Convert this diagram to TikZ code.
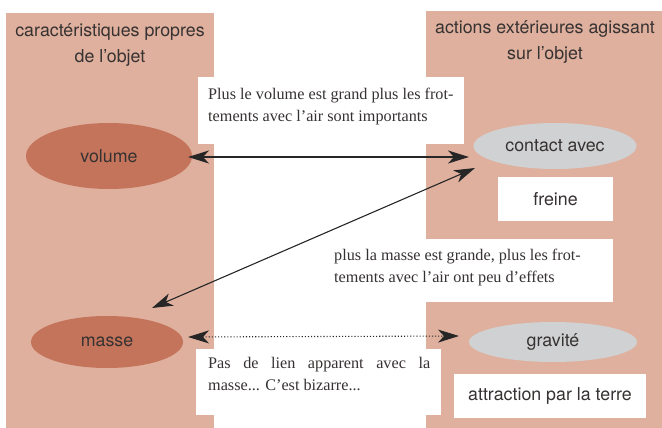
\documentclass[tikz,border=0pt]{standalone}
\usepackage{fontspec}
\setmainfont{Liberation Serif}
\newfontfamily\sansf{TeX Gyre Heros}
\usetikzlibrary{arrows.meta,shapes.geometric}
\definecolor{panel}{RGB}{222,176,157}
\definecolor{darkell}{RGB}{196,116,91}
\definecolor{greyell}{RGB}{208,209,211}
\definecolor{txt}{RGB}{55,50,50}
\tikzset{
  x=1pt,y=-1pt,
  sansfont/.style={font=\sansf\fontsize{17.8}{26}\selectfont,text=txt},
  paneltitle/.style={sansfont,align=center,inner sep=0},
  ellA/.style={ellipse,fill=darkell,sansfont,inner sep=0},
  ellB/.style={ellipse,fill=greyell,sansfont,inner sep=0},
  wbox/.style={fill=white,inner sep=0,anchor=north west},
  note/.style={font=\fontsize{16.2}{22}\selectfont,text=txt,align=left,inner sep=0,anchor=north west},
  conn/.style={line width=1.1pt,black!85,{Stealth[length=21pt,width=13pt,inset=6pt]}-{Stealth[length=21pt,width=13pt,inset=6pt]}},
}
\begin{document}
\begin{tikzpicture}
\useasboundingbox (0,0) rectangle (662,428);
% panels
\fill[panel] (6,13) rectangle (214,428);
\fill[panel] (426,11) rectangle (662,428);
\node[paneltitle] (t1) at (110,45) {caractéristiques propres\\de l’objet};
\node[paneltitle] (t2) at (545,42) {actions extérieures agissant\\sur l’objet};
% white boxes
\node[wbox,minimum width=266,minimum height=67] (b1) at (198,77) {};
\node[note] (n1) at (208,88) {Plus le volume est grand plus les frot-\\tements avec l’air sont importants};
\node[wbox,minimum width=289,minimum height=63] (b2) at (324,239) {};
\node[note] (n2) at (334,249) {plus la masse est grande, plus les frot-\\tements avec l’air ont peu d’effets};
\node[wbox,minimum width=245,minimum height=66] (b3) at (196,349) {};
\node[note] (n3) at (208,357) {\makebox[222pt][s]{Pas de lien apparent avec la}\\masse... C’est bizarre...};
\node[wbox,minimum width=115,minimum height=44] (fr) at (498,177) {};
\node[sansfont] (frt) at (555.5,199) {freine};
\node[wbox,minimum width=192,minimum height=44] (at) at (454,374) {};
\node[sansfont] (att) at (550,396) {attraction par la terre};
% ellipses
\node[ellA,minimum width=166,minimum height=66] (volume) at (109,156) {volume};
\node[ellA,minimum width=152,minimum height=52] (masse) at (107,342) {masse};
\node[ellB,minimum width=163,minimum height=46] (contact) at (555,146) {contact avec};
\node[ellB,minimum width=168,minimum height=40] (gravite) at (553,342) {gravité};
% connectors
\draw[conn] ([shift={(79,1)}]volume.center) -- ([shift={(-86,11)}]contact.center);
\draw[conn] ([shift={(45,-34)}]masse.center) -- ([shift={(-80,22)}]contact.center);
\draw[conn,dotted] ([shift={(81,-5)}]masse.center) -- ([shift={(-94,-6)}]gravite.center);
\end{tikzpicture}
\end{document}
